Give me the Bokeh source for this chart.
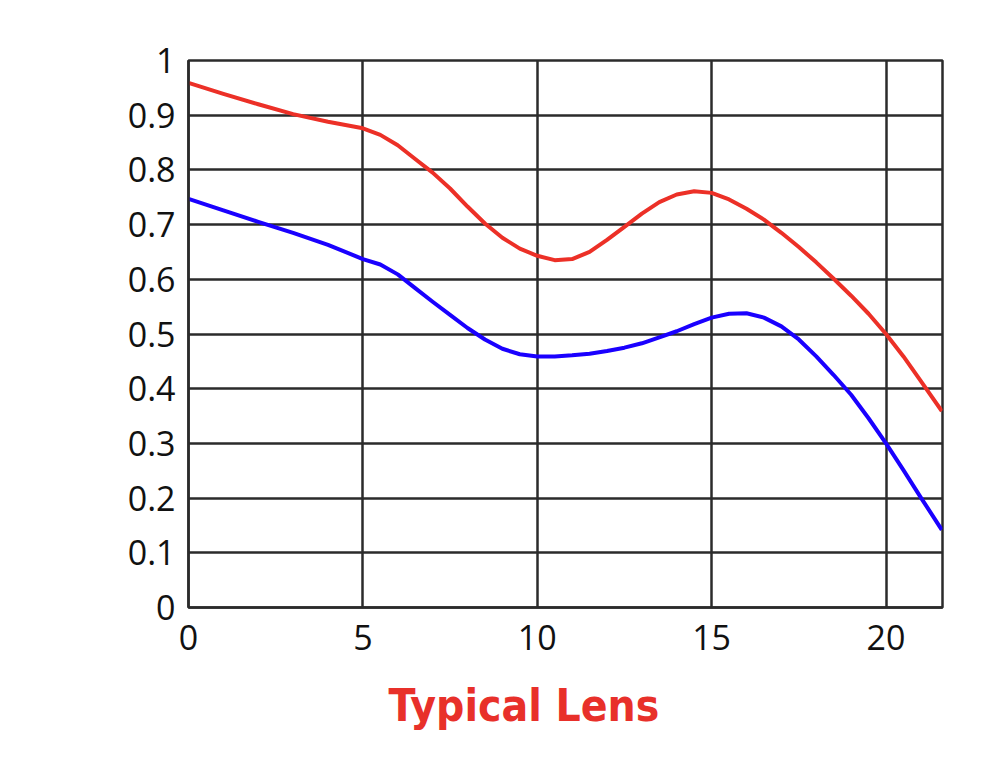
from bokeh.plotting import figure
from bokeh.models import FixedTicker, Title, Range1d
from bokeh.embed import file_html
from bokeh.resources import INLINE

# ---- data ----
x_vals = [0, 1, 2, 3, 4, 5, 5.5, 6, 6.5, 7, 7.5, 8, 8.5, 9, 9.5, 10, 10.5, 11, 11.5, 12,
          12.5, 13, 13.5, 14, 14.5, 15, 15.5, 16, 16.5, 17, 17.5, 18, 18.5, 19, 19.5,
          20, 20.5, 21, 21.6]
red_vals = [0.959, 0.939, 0.920, 0.902, 0.888, 0.876, 0.864, 0.845, 0.820, 0.795, 0.766,
            0.733, 0.702, 0.676, 0.656, 0.643, 0.635, 0.637, 0.650, 0.672, 0.696, 0.720,
            0.741, 0.755, 0.761, 0.758, 0.746, 0.729, 0.709, 0.685, 0.659, 0.631, 0.601,
            0.570, 0.537, 0.500, 0.459, 0.414, 0.359]
blue_vals = [0.747, 0.726, 0.705, 0.685, 0.663, 0.637, 0.627, 0.609, 0.584, 0.559, 0.535,
             0.511, 0.490, 0.473, 0.463, 0.459, 0.459, 0.461, 0.464, 0.469, 0.475, 0.483,
             0.494, 0.505, 0.518, 0.530, 0.537, 0.538, 0.530, 0.514, 0.490, 0.459, 0.425,
             0.389, 0.346, 0.300, 0.251, 0.201, 0.142]
x_ticks = [0, 5, 10, 15, 20]
y_ticks = [0, 0.1, 0.2, 0.3, 0.4, 0.5, 0.6, 0.7, 0.8, 0.9, 1]
y_tick_labels = ["0", "0.1", "0.2", "0.3", "0.4", "0.5", "0.6", "0.7", "0.8", "0.9", "1"]
title_text = "Typical Lens"

GRID = "#2b2b2b"
FONT = "Open Sans"

p = figure(width=978, height=756, output_backend="svg", toolbar_location=None,
           x_range=Range1d(0, 21.62), y_range=Range1d(0, 1),
           min_border_left=188, min_border_right=36, min_border_top=60,
           min_border_bottom=149)
p.background_fill_color = "white"
p.border_fill_color = "white"
p.outline_line_color = GRID
p.outline_line_width = 2.5

# grids
p.xgrid.ticker = FixedTicker(ticks=x_ticks)
p.ygrid.ticker = FixedTicker(ticks=y_ticks)
for g in (p.xgrid, p.ygrid):
    g.grid_line_color = GRID
    g.grid_line_width = 2.5
    g.grid_line_alpha = 1

# axes
p.xaxis.ticker = FixedTicker(ticks=x_ticks)
p.yaxis.ticker = FixedTicker(ticks=y_ticks)
p.yaxis.major_label_overrides = {t: s for t, s in zip(y_ticks, y_tick_labels)}
for ax in (p.xaxis, p.yaxis):
    ax.axis_line_color = GRID
    ax.axis_line_width = 2.5
    ax.major_tick_in = 0
    ax.major_tick_out = 0
    ax.minor_tick_in = 0
    ax.minor_tick_out = 0
    ax.major_label_text_font = FONT
    ax.major_label_text_font_size = "34px"
    ax.major_label_text_color = "#111111"
p.yaxis.major_label_standoff = 13
p.xaxis.major_label_standoff = 17

# series
p.line(x_vals, red_vals, line_color="#EC3027", line_width=4, line_join="round")
p.line(x_vals, blue_vals, line_color="#1A00FF", line_width=4, line_join="round")

# title below
t = Title(text=title_text, align="left", offset=200, text_font_size="44px",
          text_font_style="bold", text_color="#E8302A",
          text_font="DejaVu Sans Condensed", standoff=50)
p.add_layout(t, "below")

open("out.html", "w").write(file_html(p, INLINE))
